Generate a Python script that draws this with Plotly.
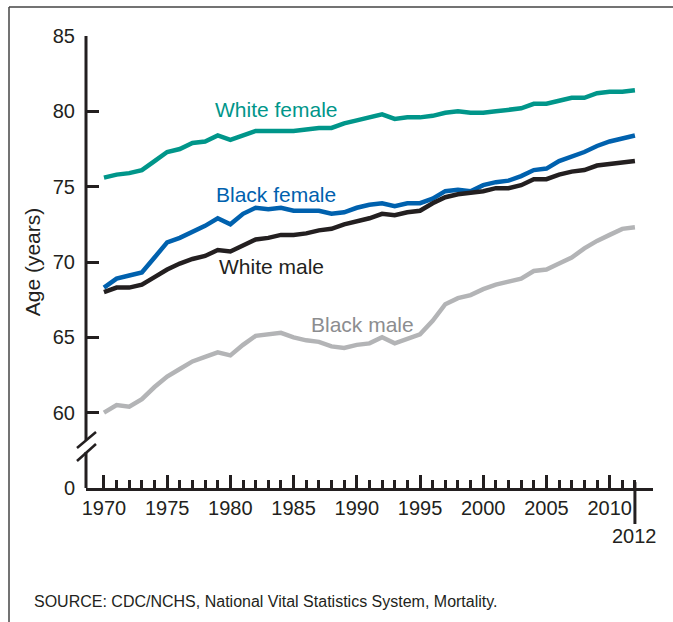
import plotly.graph_objects as go

years = list(range(1970, 2013))

white_female = [75.6, 75.8, 75.9, 76.1, 76.7, 77.3, 77.5, 77.9, 78.0, 78.4,
                78.1, 78.4, 78.7, 78.7, 78.7, 78.7, 78.8, 78.9, 78.9, 79.2,
                79.4, 79.6, 79.8, 79.5, 79.6, 79.6, 79.7, 79.9, 80.0, 79.9,
                79.9, 80.0, 80.1, 80.2, 80.5, 80.5, 80.7, 80.9, 80.9, 81.2,
                81.3, 81.3, 81.4]
black_female = [68.3, 68.9, 69.1, 69.3, 70.3, 71.3, 71.6, 72.0, 72.4, 72.9,
                72.5, 73.2, 73.6, 73.5, 73.6, 73.4, 73.4, 73.4, 73.2, 73.3,
                73.6, 73.8, 73.9, 73.7, 73.9, 73.9, 74.2, 74.7, 74.8, 74.7,
                75.1, 75.3, 75.4, 75.7, 76.1, 76.2, 76.7, 77.0, 77.3, 77.7,
                78.0, 78.2, 78.4]
white_male = [68.0, 68.3, 68.3, 68.5, 69.0, 69.5, 69.9, 70.2, 70.4, 70.8,
              70.7, 71.1, 71.5, 71.6, 71.8, 71.8, 71.9, 72.1, 72.2, 72.5,
              72.7, 72.9, 73.2, 73.1, 73.3, 73.4, 73.9, 74.3, 74.5, 74.6,
              74.7, 74.9, 74.9, 75.1, 75.5, 75.5, 75.8, 76.0, 76.1, 76.4,
              76.5, 76.6, 76.7]
black_male = [60.0, 60.5, 60.4, 60.9, 61.7, 62.4, 62.9, 63.4, 63.7, 64.0,
              63.8, 64.5, 65.1, 65.2, 65.3, 65.0, 64.8, 64.7, 64.4, 64.3,
              64.5, 64.6, 65.0, 64.6, 64.9, 65.2, 66.1, 67.2, 67.6, 67.8,
              68.2, 68.5, 68.7, 68.9, 69.4, 69.5, 69.9, 70.3, 70.9, 71.4,
              71.8, 72.2, 72.3]

series_names = ["White female", "Black female", "White male", "Black male"]
line_colors = ["#00968a", "#0061ae", "#231f20", "#b3b4b6"]
label_colors = ["#00968a", "#0061ae", "#231f20", "#8c8d8f"]
label_pos = [(1983.66, 80.15), (1983.6, 74.5), (1983.25, 69.73), (1990.43, 65.82)]

y_tickvals = [55, 60, 65, 70, 75, 80, 85]
y_ticktext = ["0", "60", "65", "70", "75", "80", "85"]
x_tickvals = list(range(1970, 2011, 5))

FONT = "Liberation Sans, Arial, Helvetica, sans-serif"
AX = "#231f20"

fig = go.Figure()
for name, vals, col in zip(series_names,
                           [white_female, black_female, white_male, black_male],
                           line_colors):
    fig.add_trace(go.Scatter(x=years, y=vals, mode="lines", name=name,
                             line=dict(color=col, width=4.5)))

annotations = []
for name, (lx, ly), col in zip(series_names, label_pos, label_colors):
    annotations.append(dict(x=lx, y=ly, xref="x", yref="y", text=name,
                            showarrow=False, font=dict(size=21, color=col, family=FONT),
                            xanchor="center", yanchor="middle"))
annotations.append(dict(x=2012, y=-0.106, xref="x", yref="paper", text="2012",
                        showarrow=False, font=dict(size=20, color=AX, family=FONT),
                        xanchor="center", yanchor="middle"))
annotations.append(dict(x=-0.0952, y=-0.2516, xref="paper", yref="paper",
                        text="SOURCE: CDC/NCHS, National Vital Statistics System, Mortality.",
                        showarrow=False, font=dict(size=16, color=AX, family=FONT),
                        xanchor="left", yanchor="middle"))

shapes = [
    # y-axis line with break
    dict(type="line", xref="paper", yref="paper", x0=0, x1=0, y0=0.106, y1=1.0,
         line=dict(color=AX, width=3)),
    dict(type="line", xref="paper", yref="paper", x0=0, x1=0, y0=0, y1=0.0796,
         line=dict(color=AX, width=3)),
    dict(type="line", xref="paper", yref="paper", x0=-0.0159, x1=0.0176, y0=0.0885, y1=0.1239,
         line=dict(color=AX, width=2.5)),
    dict(type="line", xref="paper", yref="paper", x0=-0.0159, x1=0.0176, y0=0.0597, y1=0.0973,
         line=dict(color=AX, width=2.5)),
    # 2012 marker tick
    dict(type="line", xref="x", yref="paper", x0=2012, x1=2012, y0=0.013, y1=-0.0796,
         line=dict(color=AX, width=3)),
    # frame (left and top edges)
    dict(type="line", xref="paper", yref="paper", x0=-0.1358, x1=-0.1358, y0=-0.30, y1=1.0642,
         line=dict(color="#444444", width=1.5)),
    dict(type="line", xref="paper", yref="paper", x0=-0.1358, x1=1.04, y0=1.0642, y1=1.0642,
         line=dict(color="#444444", width=1.5)),
]

fig.update_layout(
    width=673, height=622,
    margin=dict(l=86, r=20, t=36, b=134),
    paper_bgcolor="white", plot_bgcolor="white",
    showlegend=False,
    font=dict(family=FONT, size=20, color=AX),
    annotations=annotations,
    shapes=shapes,
    xaxis=dict(range=[1968.58, 2013.43], showgrid=False, zeroline=False,
               automargin=False,
               showline=True, linecolor=AX, linewidth=3,
               tickmode="array", tickvals=x_tickvals,
               ticks="inside", ticklen=13, tickwidth=3, tickcolor=AX,
               ticklabelstandoff=0,
               tickfont=dict(size=20, family=FONT, color=AX),
               minor=dict(tickmode="array", tickvals=years, ticks="inside",
                          ticklen=8, tickwidth=3, tickcolor=AX)),
    yaxis=dict(range=[55, 85], showgrid=False, zeroline=False, showline=False,
               automargin=False,
               tickmode="array", tickvals=y_tickvals, ticktext=y_ticktext,
               ticks="inside", ticklen=13, tickwidth=3, tickcolor=AX,
               ticklabelstandoff=10,
               tickfont=dict(size=20, family=FONT, color=AX),
               title=dict(text="Age (years)", font=dict(size=21, family=FONT, color=AX),
                          standoff=6)),
)

fig.write_html("out.html", config={"displayModeBar": False},
               post_script="document.body.style.margin='0';")
